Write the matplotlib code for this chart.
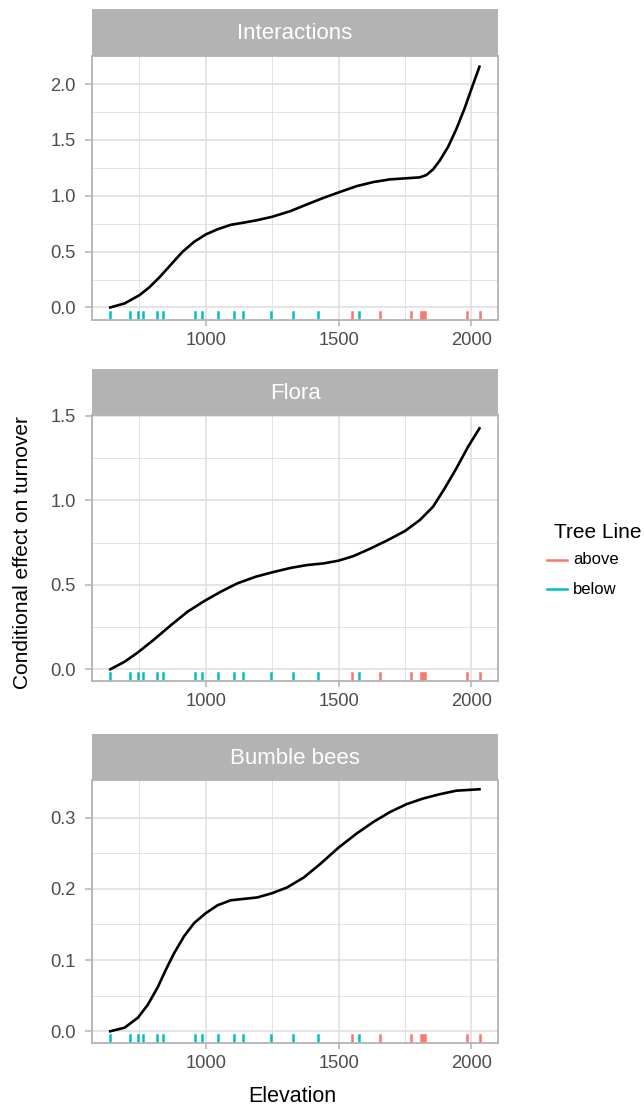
import numpy as np
import matplotlib.pyplot as plt
from matplotlib.lines import Line2D

plt.rcParams["font.family"] = ["Liberation Sans", "DejaVu Sans"]

# ── Data ──────────────────────────────────────────────────────────────────────
panel_titles = ["Interactions", "Flora", "Bumble bees"]

inter_x = [640, 694, 750, 787, 825, 869, 912, 956, 1000, 1044, 1094, 1144,
           1194, 1250, 1319, 1381, 1444, 1500, 1569, 1631, 1694, 1750, 1806,
           1831, 1856, 1881, 1913, 1944, 1975, 2006, 2031]
inter_y = [0.0, 0.036, 0.11, 0.18, 0.269, 0.385, 0.498, 0.588, 0.654, 0.70,
           0.74, 0.76, 0.782, 0.812, 0.863, 0.923, 0.982, 1.03, 1.087, 1.123,
           1.147, 1.156, 1.165, 1.186, 1.236, 1.314, 1.439, 1.598, 1.783,
           1.992, 2.156]

flora_x = [640, 694, 744, 806, 869, 931, 994, 1056, 1119, 1188, 1250, 1319,
           1381, 1444, 1500, 1556, 1619, 1681, 1750, 1806, 1856, 1900, 1944,
           1988, 2031]
flora_y = [0.0, 0.045, 0.10, 0.178, 0.262, 0.341, 0.404, 0.459, 0.509, 0.548,
           0.574, 0.60, 0.617, 0.627, 0.643, 0.670, 0.714, 0.761, 0.818, 0.883,
           0.962, 1.071, 1.189, 1.317, 1.426]

bee_x = [640, 694, 744, 781, 819, 850, 881, 919, 956, 1000, 1044, 1094, 1144,
         1194, 1250, 1306, 1369, 1431, 1500, 1569, 1631, 1694, 1756, 1819,
         1881, 1944, 2031]
bee_y = [0.0, 0.005, 0.019, 0.037, 0.062, 0.087, 0.110, 0.134, 0.152, 0.166,
         0.177, 0.184, 0.186, 0.188, 0.194, 0.202, 0.216, 0.235, 0.258, 0.278,
         0.294, 0.308, 0.319, 0.327, 0.333, 0.338, 0.340]

rug_below = [640, 714, 745, 765, 817, 840, 960, 986, 1045, 1105, 1140, 1245,
             1330, 1421, 1579]
rug_above = [1552, 1655, 1774, 1810, 1819, 1825, 1985, 2032]

y_ticks = [[0.0, 0.5, 1.0, 1.5, 2.0], [0.0, 0.5, 1.0, 1.5], [0.0, 0.1, 0.2, 0.3]]
y_minor = [[0.25, 0.75, 1.25, 1.75], [0.25, 0.75, 1.25], [0.05, 0.15, 0.25]]
y_lims = [(-0.108, 2.252), (-0.069, 1.505), (-0.0165, 0.353)]
x_ticks = [1000, 1500, 2000]
x_minor = [750, 1250, 1750]
x_lim = (570, 2102)

legend_title = "Tree Line"
legend_labels = ["above", "below"]

# ── Style ─────────────────────────────────────────────────────────────────────
COL_ABOVE = "#F8766D"
COL_BELOW = "#00BFC4"
GREY70 = "#B3B3B3"
GRID = "#DEDEDE"
TXT = "#4D4D4D"
FS_TICK = 13.2

W, H = 644, 1107
fig = plt.figure(figsize=(W / 100, H / 100), dpi=100)


def fx(px):
    return px / W


def fy(py):
    return 1 - py / H


# pixel boxes: (strip_top, plot_top, plot_bottom)
boxes = [(9, 56, 319.5), (369, 415, 681), (734, 780, 1043)]
left_px, right_px = 91.7, 498.3

series = [(inter_x, inter_y), (flora_x, flora_y), (bee_x, bee_y)]

for i, (s_top, p_top, p_bot) in enumerate(boxes):
    ax = fig.add_axes([fx(left_px), fy(p_bot),
                       (right_px - left_px) / W, (p_bot - p_top) / H])
    sax = fig.add_axes([fx(left_px), fy(p_top),
                        (right_px - left_px) / W, (p_top - s_top) / H])
    sax.set_facecolor(GREY70)
    sax.set_xticks([])
    sax.set_yticks([])
    for sp in sax.spines.values():
        sp.set_visible(False)
    sax.text(0.5, 0.47, panel_titles[i], color="white", fontsize=16,
             ha="center", va="center", transform=sax.transAxes)

    ax.set_xlim(*x_lim)
    ax.set_ylim(*y_lims[i])
    ax.set_xticks(x_ticks)
    ax.set_xticks(x_minor, minor=True)
    ax.set_yticks(y_ticks[i])
    ax.set_yticks(y_minor[i], minor=True)
    ax.set_yticklabels([f"{v:.1f}" for v in y_ticks[i]])
    ax.grid(which="major", color=GRID, linewidth=1.1, zorder=0)
    ax.grid(which="minor", color=GRID, linewidth=0.6, zorder=0)
    ax.set_axisbelow(True)
    ax.tick_params(which="major", colors=GREY70, labelcolor=TXT,
                   labelsize=FS_TICK, width=1.1)
    ax.tick_params(axis="x", which="major", length=4.5, pad=4.5)
    ax.tick_params(axis="y", which="major", length=5, pad=6.5)
    ax.tick_params(which="minor", length=0)
    for sp in ax.spines.values():
        sp.set_color(GREY70)
        sp.set_linewidth(1.3)

    xs, ys = series[i]
    ax.plot(xs, ys, color="black", linewidth=1.9, zorder=3,
            solid_joinstyle="round")

    for x in rug_below:
        ax.axvline(x, ymin=0, ymax=0.03, color=COL_BELOW, linewidth=1.8, zorder=2)
    for x in rug_above:
        ax.axvline(x, ymin=0, ymax=0.03, color=COL_ABOVE, linewidth=1.8, zorder=2)

# axis titles
fig.text(fx(292), fy(1102), "Elevation", fontsize=15.5,
         ha="center", va="baseline")
fig.text(fx(23), fy(553), "Conditional effect on turnover", rotation=90,
         fontsize=15, ha="center", va="center")

# legend (drawn by hand at the reference position)
fig.text(fx(554), fy(533), legend_title, fontsize=15, ha="left", va="center")
key_cols = [COL_ABOVE, COL_BELOW]
key_y = [560, 589]
for lab, col, ky in zip(legend_labels, key_cols, key_y):
    fig.add_artist(Line2D([fx(547), fx(567)], [fy(ky), fy(ky)],
                          color=col, linewidth=1.8,
                          transform=fig.transFigure))
    fig.text(fx(573), fy(ky), lab, fontsize=12, ha="left", va="center")

fig.savefig("out.png", dpi=100)
